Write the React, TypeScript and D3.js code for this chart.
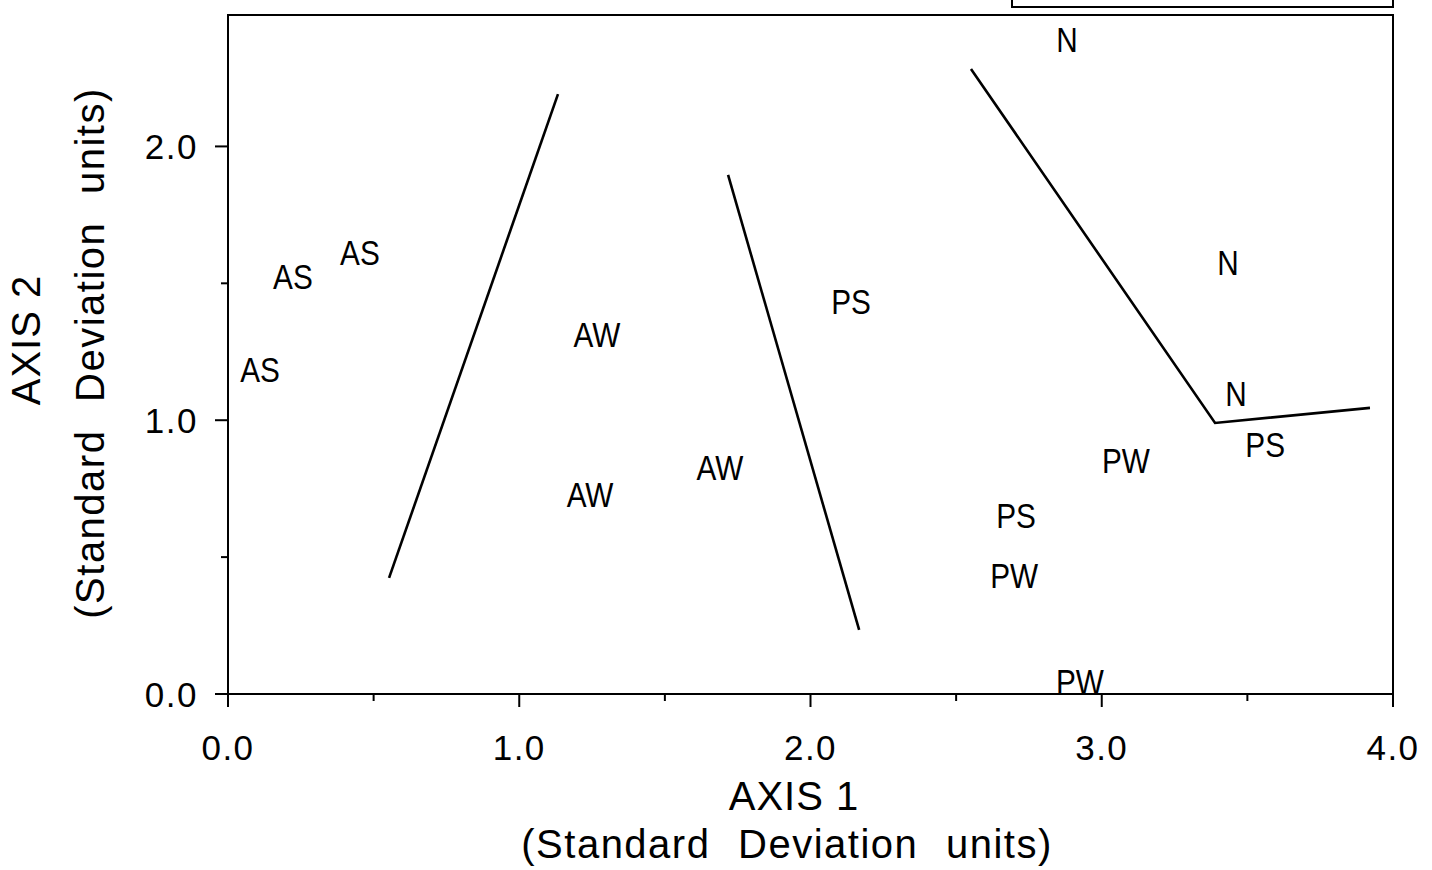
import React from "react";
import * as d3 from "d3";

// Ordination scores (standard deviation units) for each labelled sample
const sampleGroups = ["N", "AS", "AS", "AS", "AW", "AW", "AW", "PS", "PS", "PS", "N", "N", "PW", "PW", "PW"];
const axis1Scores = [2.881, 0.453, 0.223, 0.11, 1.267, 1.243, 1.689, 2.139, 2.706, 3.561, 3.433, 3.461, 3.083, 2.699, 2.925];
const axis2Scores = [2.392, 1.614, 1.527, 1.184, 1.315, 0.73, 0.829, 1.435, 0.654, 0.913, 1.578, 1.099, 0.855, 0.435, 0.047];

// Hand-drawn group boundaries, as [axis1, axis2] vertices
const boundaryA: [number, number][] = [[1.133, 2.191], [0.553, 0.424]];
const boundaryB: [number, number][] = [[1.717, 1.896], [2.167, 0.234]];
const boundaryC: [number, number][] = [[2.551, 2.283], [3.389, 0.99], [3.921, 1.045]];
const boundaries = [boundaryA, boundaryB, boundaryC];

const xMajorTicks = [0, 1, 2, 3, 4];
const xMinorTicks = [0.5, 1.5, 2.5, 3.5];
const yMajorTicks = [0, 1, 2];
const yMinorTicks = [0.5, 1.5];

const W = 1432;
const H = 870;
const left = 228;
const right = 1393;
const top = 15;
const bottom = 694;

const FONT = "'Liberation Sans', Arial, sans-serif";

export default function App() {
  const x = d3.scaleLinear().domain([0, 4]).range([left, right]);
  const y = d3.scaleLinear().domain([0, 2.48]).range([bottom, top]);
  const line = d3
    .line<[number, number]>()
    .x((d) => x(d[0]))
    .y((d) => y(d[1]));
  const fmt = d3.format(".1f");

  return (
    <svg
      width={W}
      height={H}
      style={{ position: "absolute", left: 0, top: 0, background: "#fff" }}
      fontFamily={FONT}
    >
      {/* partially visible key box above the plot */}
      <rect x={1012} y={-40} width={381} height={47} fill="none" stroke="#000" strokeWidth={2} />

      {/* plot frame */}
      <rect x={left} y={top} width={right - left} height={bottom - top} fill="none" stroke="#000" strokeWidth={2} />

      {/* x axis ticks */}
      {xMajorTicks.map((t) => (
        <line key={"xM" + t} x1={x(t)} x2={x(t)} y1={bottom} y2={bottom + 13} stroke="#000" strokeWidth={2} />
      ))}
      {xMinorTicks.map((t) => (
        <line key={"xm" + t} x1={x(t)} x2={x(t)} y1={bottom} y2={bottom + 7} stroke="#000" strokeWidth={2} />
      ))}
      {xMajorTicks.map((t) => (
        <text key={"xl" + t} x={x(t)} y={760} textAnchor="middle" fontSize={35} letterSpacing={1.5} fill="#000">
          {fmt(t)}
        </text>
      ))}

      {/* y axis ticks */}
      {yMajorTicks.map((t) => (
        <line key={"yM" + t} x1={left - 13} x2={left} y1={y(t)} y2={y(t)} stroke="#000" strokeWidth={2} />
      ))}
      {yMinorTicks.map((t) => (
        <line key={"ym" + t} x1={left - 7} x2={left} y1={y(t)} y2={y(t)} stroke="#000" strokeWidth={2} />
      ))}
      {yMajorTicks.map((t) => (
        <text key={"yl" + t} x={198} y={y(t)} dy="0.36em" textAnchor="end" fontSize={35} letterSpacing={1.5} fill="#000">
          {fmt(t)}
        </text>
      ))}

      {/* axis titles */}
      <text x={794} y={810} textAnchor="middle" fontSize={40} letterSpacing={1} fill="#000">
        AXIS 1
      </text>
      <text x={787} y={858} textAnchor="middle" fontSize={40} letterSpacing={1.5} wordSpacing={15} fill="#000">
        (Standard Deviation units)
      </text>
      <text transform="translate(40,340) rotate(-90)" textAnchor="middle" fontSize={40} letterSpacing={1} fill="#000">
        AXIS 2
      </text>
      <text
        transform="translate(104,353) rotate(-90)"
        textAnchor="middle"
        fontSize={40}
        letterSpacing={1.5}
        wordSpacing={15}
        fill="#000"
      >
        (Standard Deviation units)
      </text>

      {/* group boundaries */}
      {boundaries.map((b, i) => (
        <path key={"b" + i} d={line(b) || ""} fill="none" stroke="#000" strokeWidth={2.6} />
      ))}

      {/* sample labels */}
      {sampleGroups.map((g, i) => (
        <g key={"p" + i} transform={`translate(${x(axis1Scores[i])},${y(axis2Scores[i])}) scale(0.85,1)`}>
          <text x={0} y={0} dy="0.36em" textAnchor="middle" fontSize={35} fill="#000">
            {g}
          </text>
        </g>
      ))}
    </svg>
  );
}
